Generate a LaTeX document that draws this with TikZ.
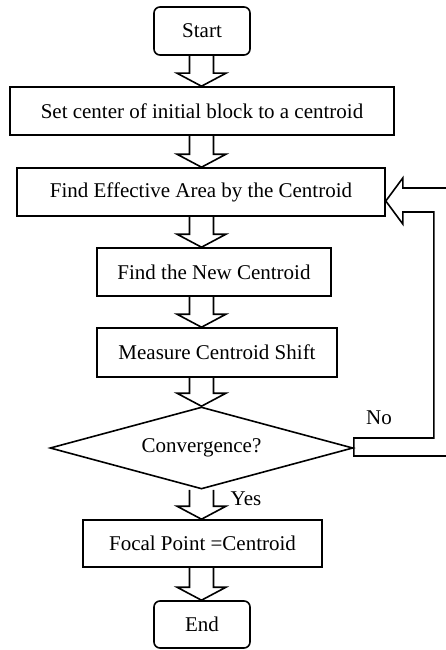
\documentclass[tikz,border=0pt]{standalone}
\usepackage{fontspec}
\setmainfont{Liberation Serif}
\usetikzlibrary{calc,shapes.geometric}
\tikzset{
  txt/.style={font=\fontsize{21}{25}\selectfont},
  box/.style={draw, rectangle, inner sep=0pt, txt},
  term/.style={box, rounded corners=6pt},
  blk/.style={draw, line join=miter},
}
\newcommand\blockarr[2]{%
  \draw[blk] ($(ax |- #1.south)+(-12,0)$) -- ($(ax |- #2.north)+(-12,-13)$)
    -- ($(ax |- #2.north)+(-24.5,-13)$) -- (ax |- #2.north)
    -- ($(ax |- #2.north)+(24.5,-13)$) -- ($(ax |- #2.north)+(12,-13)$)
    -- ($(ax |- #1.south)+(12,0)$);}
\begin{document}
\begin{tikzpicture}[x=1pt,y=-1pt,line width=1.6pt]
\useasboundingbox (0,0) rectangle (446,650);
\coordinate (ax) at (201.5,0);
\node[term, minimum width=96pt, minimum height=48pt] (start) at (202,31) {Start};
\node[box, minimum width=384pt, minimum height=48pt] (b2) at (202,111) {Set center of initial block to a centroid};
\node[box, minimum width=368pt, minimum height=48pt] (b3) at (201,192) {Find Effective Area by the Centroid};
\node[box, minimum width=234pt, minimum height=48pt] (b4) at (214,272) {Find the New Centroid};
\node[box, minimum width=240pt, minimum height=49pt] (b5) at (217,352.5) {Measure Centroid Shift};
\node[draw, diamond, aspect=3.7, minimum width=303pt, minimum height=82pt, inner sep=0pt, txt] (conv) at (201.5,448) {Convergence?};
\node[box, minimum width=239pt, minimum height=47pt] (b6) at (202.5,543.5) {Focal Point =Centroid};
\node[term, minimum width=96pt, minimum height=47pt] (end) at (202,624.5) {End};
\node[txt] (no) at (379,418) {No};
\node[txt] (yes) at (246,499) {Yes};
\blockarr{start}{b2}
\blockarr{b2}{b3}
\blockarr{b3}{b4}
\blockarr{b4}{b5}
\blockarr{b5}{conv}
\blockarr{conv}{b6}
\blockarr{b6}{end}
\coordinate (fbA) at (446,188);
\coordinate (fbB) at (446,456);
\draw[blk] (fbA) -- ($(b3.east)+(17,-4)$) -- ($(b3.east)+(17,-14)$) -- ($(b3.east)+(0,9)$)
  -- ($(b3.east)+(17,32)$) -- ($(b3.east)+(17,20)$) -- ($(b3.east)+(48,20)$)
  |- ($(conv.east)+(0,-10)$) -- ($(conv.east)+(0,8)$) -- (fbB);
\end{tikzpicture}
\end{document}
